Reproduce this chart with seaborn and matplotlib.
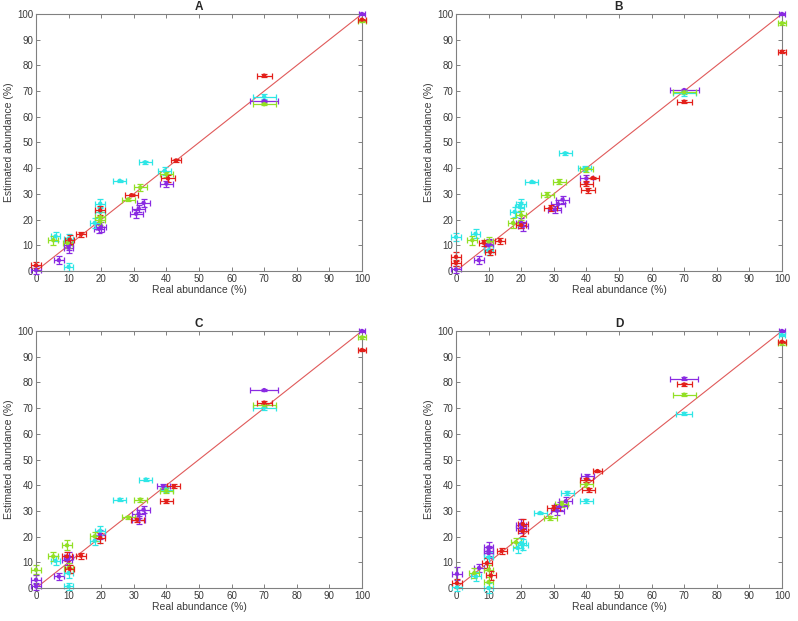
import pandas as pd
import matplotlib
matplotlib.use("Agg")
import matplotlib.pyplot as plt
import seaborn as sns

# ==========================
# Data
# ==========================
groups = ["purple", "cyan", "green", "red"]
palette = {"purple": "#8a2be2", "cyan": "#2ee6e6", "green": "#92e025", "red": "#e3201b"}

# Panel A
A_x = {"purple": [0, 7, 10, 10, 20, 19.3, 30.7, 31.5, 33, 40, 70, 100],
       "cyan": [10, 6, 10, 18, 19.7, 19.7, 25.7, 33.5, 39.5, 70],
       "green": [5.3, 9.7, 19.7, 19.7, 28.3, 32, 40, 70, 100],
       "red": [0, 10.3, 13.8, 19.7, 29.3, 40.5, 43, 70, 100]}
A_y = {"purple": [0.3, 4.2, 10, 9.1, 17.1, 16.4, 22.3, 24.3, 26.5, 34, 66.1, 100],
       "cyan": [1.6, 13.5, 12.6, 18.7, 23, 26.2, 35.1, 42.3, 39, 67.8],
       "green": [12, 10.9, 19.7, 21, 27.8, 32.5, 37.7, 64.9, 97.2],
       "red": [2.2, 12.2, 14.3, 23.6, 29.5, 36, 43, 76, 97.8]}
A_xerr = {"purple": [1.5, 1.5, 1.5, 1.5, 1.5, 1.5, 2, 2, 2, 2, 4.3, 1],
          "cyan": [1.5, 1.5, 1.5, 1.5, 1.5, 1.5, 2, 2, 2, 3.5],
          "green": [1.5, 1.5, 1.5, 1.5, 2, 2, 2, 3.5, 1.2],
          "red": [1.5, 1.5, 1.5, 1.5, 2, 2, 1.5, 2.3, 1.2]}
A_yerr = {"purple": [1.5, 1.5, 2, 2, 1.8, 1.8, 1.5, 1.5, 1.5, 1.2, 0.5, 0.3],
          "cyan": [1.5, 1.8, 1.8, 1.8, 1.8, 1.8, 0.5, 0.5, 1.5, 1],
          "green": [1.8, 1.8, 1.8, 1.8, 0.5, 1.2, 1, 0.5, 0.3],
          "red": [1.2, 1.8, 1, 1.8, 0.5, 1.2, 0.5, 0.5, 0.3]}

# Panel B
B_x = {"purple": [0, 7, 10, 10, 20, 20.5, 30.3, 31.3, 32.7, 40, 70, 100],
       "cyan": [0, 6, 10, 18, 19.5, 20, 23.3, 33.5, 39.5, 70],
       "green": [5, 10, 17.5, 20, 28, 31.7, 40, 70, 100],
       "red": [0, 0, 8.5, 10.5, 13.5, 20, 29, 40, 40.5, 42, 70, 100]}
B_y = {"purple": [0.6, 4.2, 10.6, 10, 18.7, 17.4, 23.9, 26, 27.8, 36, 70.4, 100],
       "cyan": [13.2, 14.5, 8, 23, 25, 26.2, 34.7, 45.8, 40, 69.1],
       "green": [12, 11.5, 18.7, 21.7, 29.7, 34.7, 39.5, 69.5, 96.4],
       "red": [5.5, 3.1, 11, 7.4, 11.7, 17.8, 24.5, 34, 31.4, 36.2, 65.9, 85.3]}
B_xerr = {"purple": [1.5, 1.5, 1.5, 1.5, 1.5, 1.5, 2, 2, 2, 2, 4.4, 1],
          "cyan": [1.5, 1.5, 1.5, 1.5, 1.5, 1.5, 2, 2, 2, 3.5],
          "green": [1.5, 1.5, 1.5, 1.5, 2, 2, 2, 3.5, 1.2],
          "red": [1.5, 1.5, 1.5, 1.5, 1.5, 1.5, 2, 2, 2, 2, 2.3, 1.2]}
B_yerr = {"purple": [1.5, 1.5, 2, 2, 1.8, 1.8, 1.5, 1.5, 1.5, 1.2, 0.5, 0.3],
          "cyan": [1.5, 1.8, 1.8, 1.8, 1.8, 1.8, 0.5, 0.5, 1, 1],
          "green": [1.8, 1.8, 1.8, 1.8, 1, 1, 1, 0.8, 0.5],
          "red": [1.8, 1.2, 1.2, 1.2, 1.2, 1.2, 1.2, 1, 1, 0.5, 0.5, 0.5]}

# Panel C
C_x = {"purple": [0, 0, 7, 10, 9.5, 19.7, 31.5, 31.5, 33, 39, 70, 100],
       "cyan": [10, 10, 6, 18, 19.7, 25.7, 33.7, 40, 70],
       "green": [0, 5.3, 10, 9.5, 18, 28.3, 32, 40, 70, 100],
       "red": [10.3, 9.5, 13.8, 19.7, 31, 40, 42.3, 70, 100]}
C_y = {"purple": [0.6, 3.2, 4.5, 11.9, 11, 20.8, 26.6, 28.8, 30.5, 39.6, 77, 100],
       "cyan": [0.6, 5.8, 10.6, 18.4, 22.3, 34.4, 42.2, 38.3, 70.2],
       "green": [7.1, 12.3, 7.8, 16.6, 20.1, 27.5, 34.4, 37.9, 71.2, 97.5],
       "red": [7.5, 12.3, 12.6, 19.5, 26.6, 33.8, 39.6, 72.1, 92.6]}
C_xerr = {"purple": [1.5, 1.5, 1.5, 1.5, 1.5, 1.5, 2, 2, 2, 2, 4.3, 1],
          "cyan": [1.5, 1.5, 1.5, 1.5, 1.5, 2, 2, 2, 3.5],
          "green": [1.5, 1.5, 1.5, 1.5, 1.5, 2, 2, 2, 3.5, 1.2],
          "red": [1.5, 1.5, 1.5, 1.5, 2, 2, 2, 2.3, 1.2]}
C_yerr = {"purple": [1.5, 1.8, 1.2, 2, 2, 1.8, 1.5, 1.5, 1.5, 1, 0.5, 0.3],
          "cyan": [1.5, 1.8, 1.8, 1.8, 1.8, 0.5, 0.5, 1, 1],
          "green": [1.8, 1.8, 1.8, 2, 1.8, 0.5, 0.8, 1, 0.8, 0.5],
          "red": [1.5, 1.8, 1.2, 1.8, 0.8, 0.8, 0.8, 0.5, 0.5]}

# Panel D
D_x = {"purple": [0.3, 7.1, 10, 10, 10, 20, 20, 31, 32, 33.7, 40.3, 70, 100],
       "cyan": [0.3, 6.1, 10, 10, 18.9, 20, 20.5, 25.8, 34.2, 40, 70, 100],
       "green": [5.6, 10, 10, 18.4, 28.9, 32.5, 40, 70, 100],
       "red": [0.3, 9.5, 10.7, 14, 20.5, 20.5, 30, 40, 40.8, 43.4, 70, 100]}
D_y = {"purple": [5.5, 7.8, 15.8, 14.5, 13.6, 24.7, 23.4, 30.1, 31.8, 33.8, 43.5, 81.5, 100],
       "cyan": [0.3, 4.5, 11.9, 0, 15.6, 17.5, 16.9, 29.2, 37, 34, 67.8, 98.4],
       "green": [5.8, 7.1, 2.3, 17.8, 27.3, 32.7, 40.3, 75.2, 95.2],
       "red": [1.9, 9.7, 4.9, 14.4, 24.9, 22.1, 31.2, 42.2, 38.3, 45.5, 79.2, 95.8]}
D_xerr = {"purple": [1.5, 1.5, 1.5, 1.5, 1.5, 1.5, 1.5, 2, 2, 2, 2, 4.3, 1],
          "cyan": [1.5, 1.5, 1.5, 1.5, 1.5, 1.5, 1.5, 2, 2, 2, 2.5, 1],
          "green": [1.5, 1.5, 1.5, 1.5, 2, 2, 2, 3.5, 1.2],
          "red": [1.5, 1.5, 1.5, 1.5, 1.5, 1.5, 2, 2, 2, 1.5, 2.3, 1.2]}
D_yerr = {"purple": [2.5, 1.5, 2, 2, 2, 2, 2, 1.5, 1.5, 1.5, 1, 0.5, 0.3],
          "cyan": [1.5, 1.8, 2, 2, 2, 2, 2, 0.5, 0.8, 0.8, 0.5, 0.5],
          "green": [1.8, 2, 2, 1.8, 0.8, 1, 1, 0.5, 0.5],
          "red": [1.8, 1.8, 1.8, 1, 2, 2, 1, 0.8, 0.8, 0.5, 0.5, 0.5]}

panels = {"A": (A_x, A_y, A_xerr, A_yerr),
          "B": (B_x, B_y, B_xerr, B_yerr),
          "C": (C_x, C_y, C_xerr, C_yerr),
          "D": (D_x, D_y, D_xerr, D_yerr)}

ticks = list(range(0, 101, 10))

# ==========================
# Long-form table
# ==========================
rows = []
for name, (px, py, pxe, pye) in panels.items():
    for g in groups:
        for x, y, xe, ye in zip(px[g], py[g], pxe[g], pye[g]):
            rows.append({"panel": name, "group": g, "real": x, "est": y, "xerr": xe, "yerr": ye})
df = pd.DataFrame(rows)

# ==========================
# Style
# ==========================
sns.set_style("ticks")
plt.rcParams["font.family"] = ["Liberation Sans", "DejaVu Sans"]

fig = plt.figure(figsize=(7.98, 6.21), dpi=100)

positions = {"A": [0.0451, 0.5636, 0.4085, 0.4139],
             "B": [0.5714, 0.5636, 0.4085, 0.4139],
             "C": [0.0451, 0.0531, 0.4085, 0.4139],
             "D": [0.5714, 0.0531, 0.4085, 0.4139]}

axis_grey = "#808080"
text_grey = "#3a3a3a"

for name in panels:
    ax = fig.add_axes(positions[name])
    sub = df[df["panel"] == name]

    # identity line
    ax.plot([ticks[0], ticks[-1]], [ticks[0], ticks[-1]], color="#e05a5a", lw=0.8, zorder=1)

    for g in groups:
        s = sub[sub["group"] == g]
        ax.errorbar(s["real"], s["est"], xerr=s["xerr"], yerr=s["yerr"], fmt="none",
                    ecolor=palette[g], elinewidth=0.9, capsize=2.2, capthick=0.9,
                    clip_on=False, zorder=2)

    sns.scatterplot(data=sub, x="real", y="est", hue="group", palette=palette,
                    s=10, linewidth=0, legend=False, ax=ax, clip_on=False, zorder=3)

    ax.set_xlim(0, 100)
    ax.set_ylim(0, 100)
    ax.set_xticks(ticks)
    ax.set_yticks(ticks)
    ax.tick_params(direction="in", top=True, right=True, length=3, width=0.7,
                   color=axis_grey, labelcolor=text_grey, labelsize=7, pad=2)
    for sp in ax.spines.values():
        sp.set_visible(True)
        sp.set_color(axis_grey)
        sp.set_linewidth(0.8)

    ax.set_title(name, fontsize=8.5, fontweight="bold", pad=3)
    ax.set_xlabel("Real abundance (%)", fontsize=7.5, color=text_grey, labelpad=1)
    ax.set_ylabel("Estimated abundance (%)", fontsize=7.5, color=text_grey, labelpad=2)

fig.savefig("out.png", dpi=100)
